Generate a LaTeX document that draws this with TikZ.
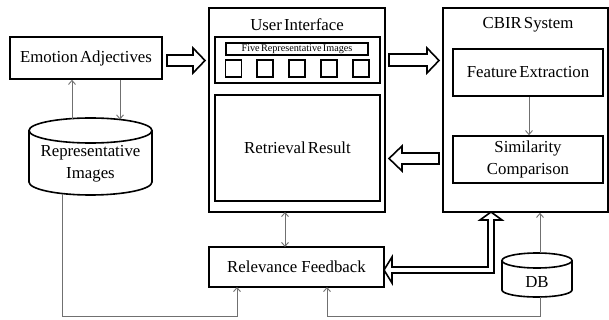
\documentclass[tikz,border=0pt]{standalone}
\usepackage{fontspec}
\setmainfont[WordSpace=0.5]{Liberation Serif}
\usetikzlibrary{arrows.meta}

\definecolor{linkgray}{HTML}{707070}

\tikzset{
  box/.style={draw, line width=1.6pt, inner sep=0pt, align=center,
    font=\fontsize{16.8}{22}\selectfont},
  label/.style={inner sep=0pt, align=center, font=\fontsize{16.8}{22}\selectfont},
  smallbox/.style={draw, line width=1.5pt, inner sep=0pt,
    minimum width=16pt, minimum height=17pt},
  conn/.style={draw=linkgray, line width=0.9pt},
  tip/.style={-{Straight Barb[length=4pt,width=7pt]}},
  bothtip/.style={{Straight Barb[length=4pt,width=7pt]}-{Straight Barb[length=4pt,width=7pt]}},
  hollow/.style={draw, line width=1.6pt, fill=white, line join=miter},
  drum/.style={draw, line width=1.6pt}
}

\begin{document}
\begin{tikzpicture}[x=1pt, y=-1pt]
\useasboundingbox[fill=white] (0,0) rectangle (609,320);

% ---- left column ----
\node[box, minimum width=152pt, minimum height=42pt] (ea) at (86,58) {Emotion Adjectives};

% representative images store (cylinder)
\draw[drum] (29,130.5) -- (29,182)
  arc[start angle=180, end angle=360, x radius=61.5pt, y radius=13pt]
  -- (152,130.5);
\draw[drum] (90.5,130.5) ellipse[x radius=61.5pt, y radius=12.5pt];
\node[label] (ri) at (90.5,164) {Representative\\Images};
\coordinate (riup) at (72,118.6);
\coordinate (ridown) at (120,119.5);
\coordinate (riout) at (62,193.5);

% ---- user interface ----
\node[box, minimum width=176pt, minimum height=204pt] (ui) at (297,110) {};
\node[label] (uilabel) at (297,25) {User Interface};
\node[draw, line width=1.6pt, minimum width=165pt, minimum height=46pt, inner sep=0pt] (sel) at (297.5,60) {};
\node[draw, line width=1.4pt, minimum width=142pt, minimum height=12pt, inner sep=0pt,
      font=\fontsize{10.2}{12}\selectfont] (five) at (297,49) {Five Representative Images};
\node[smallbox] (s1) at (233.5,68.5) {};
\node[smallbox] (s2) at (265,68.5) {};
\node[smallbox] (s3) at (297,68.5) {};
\node[smallbox] (s4) at (329,68.5) {};
\node[smallbox] (s5) at (361,68.5) {};
\node[box, minimum width=165pt, minimum height=106pt] (rr) at (297.5,148) {Retrieval Result};

% ---- CBIR system ----
\node[box, minimum width=165pt, minimum height=204pt] (cbir) at (525.5,110) {};
\node[label] (cbirlabel) at (528,25) {CBIR System};
\node[box, minimum width=150pt, minimum height=47pt] (fe) at (528,72.5) {Feature Extraction};
\node[box, minimum width=150pt, minimum height=47pt] (sc) at (528,159.5) {Similarity\\Comparison};

% ---- relevance feedback ----
\node[box, minimum width=175pt, minimum height=40pt] (rf) at (296.5,267) {Relevance\hspace{0.25em}Feedback};

% DB store (cylinder)
\draw[drum] (502,260.5) -- (502,290)
  arc[start angle=180, end angle=360, x radius=35pt, y radius=7pt]
  -- (572,260.5);
\draw[drum] (537,260.5) ellipse[x radius=35pt, y radius=7.5pt];
\node[label] (db) at (537,282) {DB};
\coordinate (dbtop) at (540,253);
\coordinate (dbout) at (540,296.8);

% ---- thin connectors ----
\draw[conn, tip] (riup) -- (riup |- ea.south);
\draw[conn, tip] (ridown |- ea.south) -- (ridown);
\draw[conn, tip] (riout) -- (62,316) -| (237,287);
\draw[conn, bothtip] (285,212) -- (285,247);
\draw[conn, tip] (fe.south -| 529,0) -- (sc.north -| 529,0);
\draw[conn, tip] (dbtop) -- (dbtop |- cbir.south);
\draw[conn, tip] (dbout) -- (540,316) -| (327,287);

% ---- block arrows ----
\draw[hollow] (167,55) -- (193,55) -- (193,48) -- (205,60.5) -- (193,73) -- (193,66) -- (167,66) -- cycle;
\draw[hollow] (389,54) -- (427,54) -- (427,48) -- (439,60.5) -- (427,73) -- (427,66) -- (389,66) -- cycle;
\draw[hollow] (439,153) -- (402,153) -- (402,146) -- (389,158.5) -- (402,171) -- (402,164) -- (439,164) -- cycle;
\draw[hollow] (384,270) -- (392,257) -- (392,267) -- (488,267) -- (488,220) -- (480,220)
  -- (491,212) -- (502,220) -- (494,220) -- (494,273) -- (392,273) -- (392,283) -- cycle;
\end{tikzpicture}
\end{document}
